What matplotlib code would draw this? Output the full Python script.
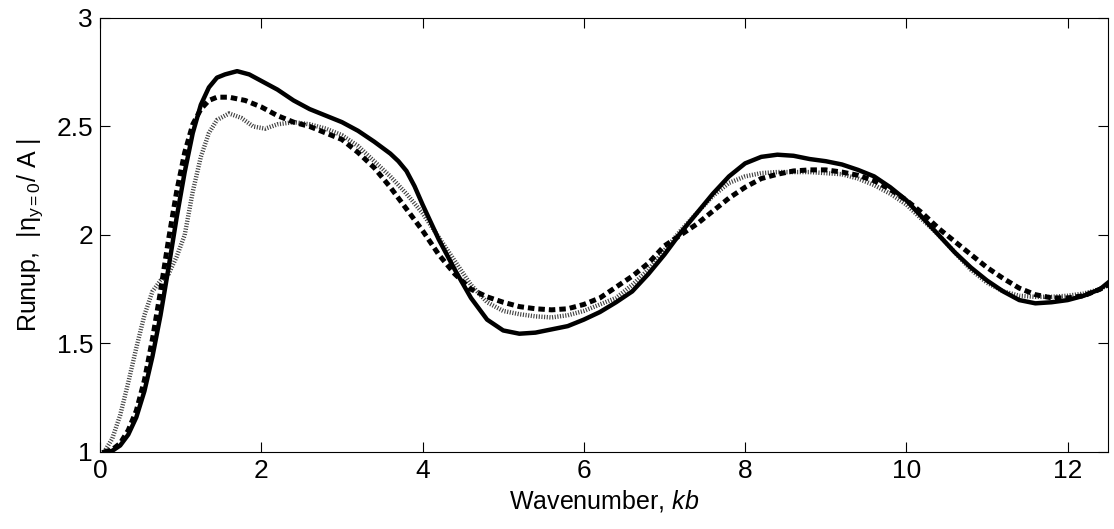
import numpy as np
import matplotlib.pyplot as plt

plt.rcParams['font.family'] = ['Liberation Sans', 'DejaVu Sans']
plt.rcParams['mathtext.fontset'] = 'custom'
plt.rcParams['mathtext.rm'] = 'Liberation Sans'
plt.rcParams['mathtext.it'] = 'Liberation Sans:italic'

# solid curve
x_solid = [0.05, 0.15, 0.25, 0.35, 0.45, 0.55, 0.65, 0.75, 0.85, 0.95, 1.05, 1.15, 1.25,
           1.35, 1.45, 1.55, 1.70, 1.85, 2.0, 2.2, 2.4, 2.6, 2.8, 3.0, 3.2, 3.4, 3.6, 3.7, 3.8, 3.9,
           4.0, 4.2, 4.4, 4.6, 4.8, 5.0, 5.2, 5.4, 5.6, 5.8, 6.0, 6.2, 6.4, 6.6, 6.8, 7.0,
           7.2, 7.4, 7.6, 7.8, 8.0, 8.2, 8.4, 8.6, 8.8, 9.0, 9.2, 9.4, 9.6, 9.8, 10.0, 10.2,
           10.4, 10.6, 10.8, 11.0, 11.2, 11.4, 11.6, 11.8, 12.0, 12.2, 12.4, 12.5]
y_solid = [1.0, 1.005, 1.03, 1.08, 1.16, 1.28, 1.44, 1.63, 1.85, 2.08, 2.29, 2.47, 2.60,
           2.68, 2.725, 2.74, 2.755, 2.74, 2.71, 2.67, 2.62, 2.58, 2.55, 2.52, 2.48, 2.43, 2.375, 2.34, 2.295, 2.225,
           2.14, 1.98, 1.84, 1.71, 1.61, 1.56, 1.545, 1.55, 1.565, 1.58, 1.61, 1.645, 1.69, 1.74, 1.82, 1.91,
           2.01, 2.10, 2.19, 2.27, 2.33, 2.36, 2.37, 2.365, 2.35, 2.34, 2.325, 2.30, 2.27, 2.22, 2.16, 2.08,
           2.00, 1.92, 1.85, 1.79, 1.74, 1.70, 1.685, 1.69, 1.70, 1.72, 1.75, 1.78]

# dashed curve
x_dash = [0.05, 0.15, 0.25, 0.35, 0.45, 0.55, 0.65, 0.75, 0.85, 0.95, 1.05, 1.15, 1.25,
          1.35, 1.45, 1.6, 1.8, 2.0, 2.2, 2.4, 2.6, 2.8, 3.0, 3.2, 3.4, 3.6, 3.8,
          4.0, 4.2, 4.4, 4.6, 4.8, 5.0, 5.2, 5.4, 5.6, 5.8, 6.0, 6.2, 6.4, 6.6, 6.8, 7.0,
          7.2, 7.4, 7.6, 7.8, 8.0, 8.2, 8.4, 8.6, 8.8, 9.0, 9.2, 9.4, 9.6, 9.8, 10.0, 10.2,
          10.4, 10.6, 10.8, 11.0, 11.2, 11.4, 11.6, 11.8, 12.0, 12.2, 12.4, 12.5]
y_dash = [1.0, 1.01, 1.04, 1.10, 1.19, 1.33, 1.52, 1.74, 1.98, 2.20, 2.38, 2.51, 2.58,
          2.62, 2.635, 2.635, 2.62, 2.59, 2.55, 2.52, 2.50, 2.47, 2.44, 2.38, 2.31, 2.22, 2.12,
          2.02, 1.91, 1.82, 1.75, 1.715, 1.69, 1.67, 1.66, 1.655, 1.66, 1.68, 1.71, 1.76, 1.81, 1.87, 1.95,
          2.00, 2.05, 2.11, 2.17, 2.22, 2.26, 2.28, 2.295, 2.30, 2.30, 2.29, 2.275, 2.25, 2.21, 2.16, 2.10,
          2.03, 1.97, 1.91, 1.85, 1.80, 1.755, 1.725, 1.71, 1.71, 1.72, 1.75, 1.77]

# dotted curve
x_dot = [0.05, 0.15, 0.25, 0.35, 0.45, 0.55, 0.65, 0.75, 0.85, 0.95, 1.05, 1.15, 1.25,
         1.35, 1.45, 1.6, 1.75, 1.9, 2.05, 2.2, 2.4, 2.6, 2.8, 3.0, 3.2, 3.4, 3.6, 3.8,
         4.0, 4.2, 4.4, 4.6, 4.8, 5.0, 5.2, 5.4, 5.6, 5.8, 6.0, 6.2, 6.4, 6.6, 6.8, 7.0,
         7.2, 7.4, 7.6, 7.8, 8.0, 8.2, 8.4, 8.6, 8.8, 9.0, 9.2, 9.4, 9.6, 9.8, 10.0, 10.2,
         10.4, 10.6, 10.8, 11.0, 11.2, 11.4, 11.6, 11.8, 12.0, 12.2, 12.4, 12.5]
y_dot = [1.0, 1.06, 1.17, 1.32, 1.48, 1.63, 1.74, 1.79, 1.82, 1.90, 2.00, 2.20, 2.36,
         2.47, 2.53, 2.56, 2.54, 2.50, 2.49, 2.51, 2.52, 2.51, 2.49, 2.46, 2.41, 2.34, 2.27, 2.19,
         2.10, 1.99, 1.88, 1.77, 1.69, 1.65, 1.635, 1.625, 1.62, 1.63, 1.65, 1.68, 1.71, 1.77, 1.84, 1.93,
         2.02, 2.10, 2.18, 2.24, 2.27, 2.285, 2.29, 2.29, 2.29, 2.285, 2.28, 2.26, 2.23, 2.19, 2.14, 2.07,
         2.00, 1.92, 1.84, 1.78, 1.74, 1.72, 1.715, 1.715, 1.72, 1.73, 1.75, 1.77]

fig = plt.figure(figsize=(11.14, 5.29), dpi=100)
ax = fig.add_axes([0.0898, 0.1456, 0.9048, 0.8204])

ax.plot(x_dot, y_dot, color='0.25', lw=3.2, dashes=(0.25, 0.35), solid_capstyle='butt')
ax.plot(x_dash, y_dash, color='black', lw=3.6, dashes=(1.3, 0.8))
ax.plot(x_solid, y_solid, color='black', lw=3.2)

ax.set_xlim(0, 12.5)
ax.set_ylim(1, 3)
ax.set_xticks([0, 2, 4, 6, 8, 10, 12])
ax.set_yticks([1, 1.5, 2, 2.5, 3])
ax.set_yticklabels(['1', '1.5', '2', '2.5', '3'])
ax.tick_params(direction='in', length=7, width=0.8, top=True, right=True,
               labelsize=19, pad=5)
for s in ax.spines.values():
    s.set_linewidth(0.8)

ax.set_xlabel(r'Wavenumber, $kb$', fontsize=18, labelpad=4)
ax.set_ylabel(r'Runup,  |$\mathrm{\eta_{y=0}}$/ A |', fontsize=18, labelpad=8)

fig.savefig('out.png', dpi=100)
